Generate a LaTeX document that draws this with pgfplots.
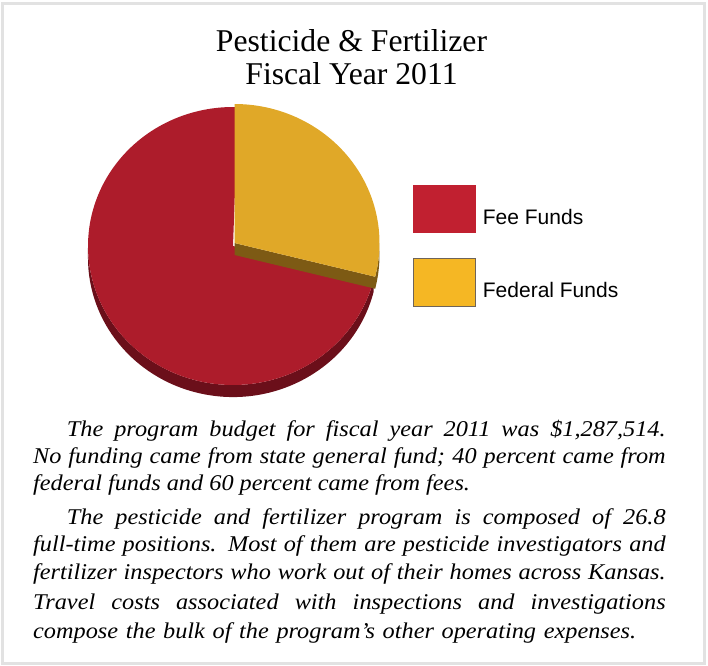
\documentclass[border=0pt]{standalone}
\usepackage{pgfplots}
\usepackage{pgfplotstable}
\pgfplotsset{compat=1.18}
\usepackage{fontspec}
\setmainfont{Liberation Serif}
\newfontfamily\titlefont{Liberation Serif}
\newfontfamily\legfont{Liberation Sans}
\newfontfamily\parafont{Liberation Serif}[FakeStretch=1.08]
\definecolor{redtop}{RGB}{173,28,43}
\definecolor{redside}{RGB}{107,15,26}
\definecolor{goldtop}{RGB}{224,168,40}
\definecolor{goldside}{RGB}{125,90,20}
\definecolor{legred}{RGB}{193,32,48}
\definecolor{leggold}{RGB}{245,183,36}
\definecolor{leggoldb}{RGB}{110,100,90}
\definecolor{bordergray}{RGB}{226,226,226}
\pgfplotstableread{
source value
Fee 71.1
Federal 28.9
}\piedata
\pgfplotstablegetelem{1}{value}\of\piedata
\pgfmathsetmacro\goldend{90-3.6*\pgfplotsretval}
\pgfmathsetmacro\redend{\goldend+360}
\pgfmathsetmacro\gxe{1.5+145*cos(\goldend)}
\pgfmathsetmacro\gye{3+139*sin(\goldend)}
\pgfmathsetmacro\gyeb{\gye-12}
\newcommand\pline[4]{\node[anchor=base west, inner sep=0pt, font=\parafont\itshape\fontsize{22.5bp}{27bp}\selectfont] at (#1bp,-#2bp) {\makebox[#3bp][s]{#4}};}
\newcommand\plast[3]{\node[anchor=base west, inner sep=0pt, font=\parafont\itshape\fontsize{22.5bp}{27bp}\selectfont] at (#1bp,-#2bp) {#3};}
\begin{document}%
\begin{tikzpicture}
\path[use as bounding box] (0bp,0bp) rectangle (708bp,-666bp);
\draw[bordergray, line width=3bp] (2.5bp,-3bp) rectangle (704bp,-663bp);
\node[anchor=base, inner sep=0pt, font=\titlefont\fontsize{31.7bp}{36bp}\selectfont] at (351.5bp,-51.7bp) {Pesticide \& Fertilizer};
\node[anchor=base, inner sep=0pt, font=\titlefont\fontsize{31.7bp}{36bp}\selectfont] at (351.5bp,-84bp) {Fiscal Year 2011};
\begin{axis}[at={(83bp,-402bp)}, anchor=south west, scale only axis,
  width=300bp, height=300bp, xmin=-150, xmax=150, ymin=-156, ymax=144,
  hide axis, clip=false,
  legend style={at={(axis cs:179.7,61)}, anchor=north west, draw=none, fill=none,
    inner sep=0pt, row sep=25bp, font=\legfont\fontsize{21bp}{25bp}\selectfont,
    nodes={inner sep=0pt}, /tikz/every odd column/.append style={column sep=7bp}},
  legend cell align=left]
\addplot[fill=redside, draw=none, domain=180:\redend, samples=90, forget plot]
  ({145*cos(x)},{139*sin(x)}) -- ++(0bp,-12bp)
  arc[start angle=\redend, end angle=180, x radius=145bp, y radius=139bp] -- cycle;
\addplot[fill=redtop, draw=none, domain=-272:\goldend, samples=150,
  legend image code/.code={\fill[legred] (0bp,-16bp) rectangle (63bp,32bp);}]
  ({145*cos(x)},{139*sin(x)}) -- (0,0) -- cycle;
\addlegendentry{Fee Funds}
\addplot[fill=goldside, draw=none, forget plot]
  coordinates {(1.5,3) (\gxe,\gye) (\gxe,\gyeb) (1.5,-9)} -- cycle;
\addplot[fill=goldside, draw=none, domain=\goldend:0, samples=20, forget plot]
  ({1.5+145*cos(x)},{3+139*sin(x)}) -- ++(0bp,-12bp)
  arc[start angle=0, end angle=\goldend, x radius=145bp, y radius=139bp] -- cycle;
\addplot[fill=goldtop, draw=none, domain=\goldend:90, samples=80,
  legend image code/.code={\filldraw[fill=leggold, draw=leggoldb, line width=0.8bp] (0.4bp,-16bp) rectangle (62.6bp,32bp);}]
  ({1.5+145*cos(x)},{3+139*sin(x)}) -- (1.5,3) -- cycle;
\addlegendentry{Federal Funds}
\end{axis}
\pline{66.7}{436.7}{598.8}{The program budget for fiscal year 2011 was \$1,287,514.}
\pline{33}{463.3}{632.5}{No funding came from state general fund; 40 percent came from}
\plast{33}{490}{federal funds and 60 percent came from fees.}
\pline{66.7}{524.5}{598.8}{The pesticide and fertilizer program is composed of 26.8}
\pline{33}{551.7}{632.5}{full-time positions. Most of them are pesticide investigators and}
\pline{33}{579.3}{632.5}{fertilizer inspectors who work out of their homes across Kansas.}
\pline{33}{609}{632.5}{Travel costs associated with inspections and investigations}
\pline{33}{638}{603}{compose the bulk of the program’s other operating expenses.}
\end{tikzpicture}%
\end{document}
